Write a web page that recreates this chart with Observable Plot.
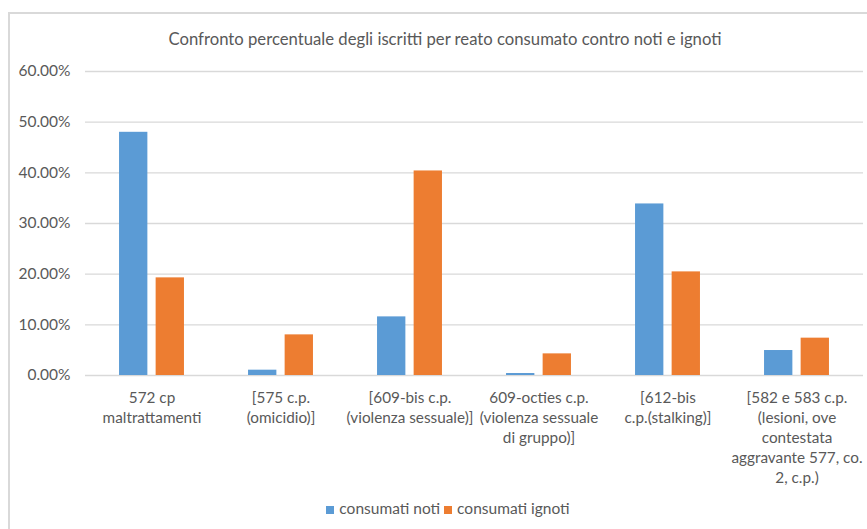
<!DOCTYPE html>
<html>
<head>
<meta charset="utf-8">
<script src="https://cdn.jsdelivr.net/npm/d3@7"></script>
<script src="https://cdn.jsdelivr.net/npm/@observablehq/plot@0.6"></script>
<style>
  html, body { margin: 0; padding: 0; background: #fff; }
  body { width: 867px; height: 529px; position: relative; overflow: hidden; font-family: Lato, "Open Sans", sans-serif; color: #595959; }
  #frame { position: absolute; left: 8px; top: 12px; width: 880px; height: 540px; border: 2px solid #D9D9D9; box-sizing: border-box; }
  #title { position: absolute; top: 29px; left: 0; width: 890px; text-align: center; font-size: 16.7px; color: #595959; }
  #chart { position: absolute; left: 0; top: 0; }
  #legend { position: absolute; top: 499px; left: 0; width: 896px; text-align: center; font-size: 15.5px; color: #595959; }
  #legend span.sw { display: inline-block; width: 8px; height: 8px; margin-right: 5px; vertical-align: 0px; }
  #legend span.item { margin: 0 2px; }
</style>
</head>
<body>
<div id="frame"></div>
<div id="title">Confronto percentuale degli iscritti per reato consumato contro noti e ignoti</div>
<div id="chart"></div>
<div id="legend"></div>
<script>
const categories = [
  "572 cp\nmaltrattamenti",
  "[575 c.p.\n(omicidio)]",
  "[609-bis c.p.\n(violenza sessuale)]",
  "609-octies c.p.\n(violenza sessuale\ndi gruppo)]",
  "[612-bis\nc.p.(stalking)]",
  "[582 e 583 c.p.\n(lesioni, ove\ncontestata\naggravante 577, co.\n2, c.p.)"
];
const seriesNames = ["consumati noti", "consumati ignoti"];
const noti = [48.0, 1.05, 11.57, 0.39, 33.86, 4.93];
const ignoti = [19.27, 8.02, 40.37, 4.27, 20.45, 7.37];
const yTicks = [0, 10, 20, 30, 40, 50, 60];
const colors = ["#5B9BD5", "#ED7D31"];

const notiData = categories.map((c, i) => ({cat: c, value: noti[i]}));
const ignotiData = categories.map((c, i) => ({cat: c, value: ignoti[i]}));

const barW = 29;
const offset = 18.3;
const bandW = 778 / 6;

const chart = Plot.plot({
  width: 867,
  height: 490,
  marginTop: 71,
  marginBottom: 115,
  marginLeft: 85,
  marginRight: 4,
  style: {fontFamily: "Lato, 'Open Sans', sans-serif", fontSize: "15.3px", color: "#595959", background: "transparent"},
  x: {domain: categories, padding: 0, axis: null},
  y: {domain: [0, 60], axis: null},
  marks: [
    Plot.ruleY(yTicks, {stroke: "#D9D9D9", strokeWidth: 1.3}),
    Plot.text(yTicks, {y: d => d, text: d => d.toFixed(2) + "%", frameAnchor: "left", textAnchor: "end", dx: -15, fill: "#595959", fontSize: 15.5}),
    Plot.barY(notiData, {x: "cat", y: "value", fill: colors[0], dx: -offset, insetLeft: (bandW - barW)/2, insetRight: (bandW - barW)/2}),
    Plot.barY(ignotiData, {x: "cat", y: "value", fill: colors[1], dx: offset, insetLeft: (bandW - barW)/2, insetRight: (bandW - barW)/2}),
    Plot.text(categories, {x: d => d, y: () => 0, text: d => d, lineAnchor: "top", dy: 13, lineHeight: 1.31, fill: "#595959"})
  ]
});
document.getElementById("chart").appendChild(chart);

const legend = document.getElementById("legend");
seriesNames.forEach((name, i) => {
  const item = document.createElement("span");
  item.className = "item";
  const sw = document.createElement("span");
  sw.className = "sw";
  sw.style.background = colors[i];
  item.appendChild(sw);
  item.appendChild(document.createTextNode(name));
  legend.appendChild(item);
});
</script>
</body>
</html>
